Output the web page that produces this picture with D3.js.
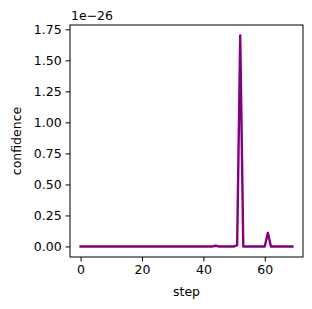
<!DOCTYPE html>
<html><head><meta charset="utf-8">
<script src="https://cdn.jsdelivr.net/npm/d3@7/dist/d3.min.js"></script>
<style>body{margin:0;background:#fff}svg{display:block}text{font-family:"DejaVu Sans",sans-serif;fill:#000}</style>
</head><body>
<script>
// confidence values in units of 1e-26, one per step 0..69
const steps = d3.range(0, 70);
const confidence = [
  0,0,0,0,0,0,0,0,0,0,
  0,0,0,0,0,0,0,0,0,0,
  0,0,0,0,0,0,0,0,0,0,
  0,0,0,0,0,0,0,0,0,0,
  0,0,0,0,0.006,0,0,0,0,0,
  0,0.01,1.70,0,0,0,0,0,0,0,
  0,0.11,0,0,0,0,0,0,0,0
];
const xTicks = [0, 20, 40, 60];
const yTicks = [0, 0.25, 0.5, 0.75, 1.0, 1.25, 1.5, 1.75];
const offsetLabel = "1e\u221226";

const W = 312, H = 309;
const L = 70, R = 303, T = 25, B = 257;
const svg = d3.select("body").append("svg").attr("width", W).attr("height", H);

const xmin = d3.min(steps), xmax = d3.max(steps);
const ymin = d3.min(confidence), ymax = d3.max(confidence);
const xp = (xmax - xmin) * 0.05, yp = (ymax - ymin) * 0.05;
const x = d3.scaleLinear().domain([xmin - xp, xmax + xp]).range([L, R]);
const y = d3.scaleLinear().domain([ymin - yp, ymax + yp]).range([B, T]);

const fs = 12.5;
const gx = svg.append("g").attr("transform", `translate(0,${B})`)
  .call(d3.axisBottom(x).tickValues(xTicks).tickSize(4.4).tickPadding(4).tickFormat(d3.format("d")));
const gy = svg.append("g").attr("transform", `translate(${L},0)`)
  .call(d3.axisLeft(y).tickValues(yTicks).tickSize(4.4).tickPadding(4).tickFormat(d3.format(".2f")));
[gx, gy].forEach(g => {
  g.select(".domain").remove();
  g.selectAll("line").attr("stroke", "#000").attr("stroke-width", 1);
  g.selectAll("text").attr("font-size", fs).attr("font-family", "DejaVu Sans");
});

svg.append("path")
  .datum(steps.map((s, i) => [s, confidence[i]]))
  .attr("fill", "none").attr("stroke", "#800080").attr("stroke-width", 2.4)
  .attr("stroke-linejoin", "round").attr("stroke-linecap", "square")
  .attr("d", d3.line().x(d => x(d[0])).y(d => y(d[1])));

svg.append("rect").attr("x", L).attr("y", T).attr("width", R - L).attr("height", B - T)
  .attr("fill", "none").attr("stroke", "#000").attr("stroke-width", 1);

svg.append("text").attr("x", L + 1).attr("y", 20).attr("font-size", fs).text(offsetLabel);
svg.append("text").attr("x", (L + R) / 2).attr("y", 296).attr("text-anchor", "middle").attr("font-size", fs).text("step");
svg.append("text").attr("transform", `translate(21,${(T + B) / 2}) rotate(-90)`)
  .attr("text-anchor", "middle").attr("font-size", fs).text("confidence");
</script>
</body></html>
